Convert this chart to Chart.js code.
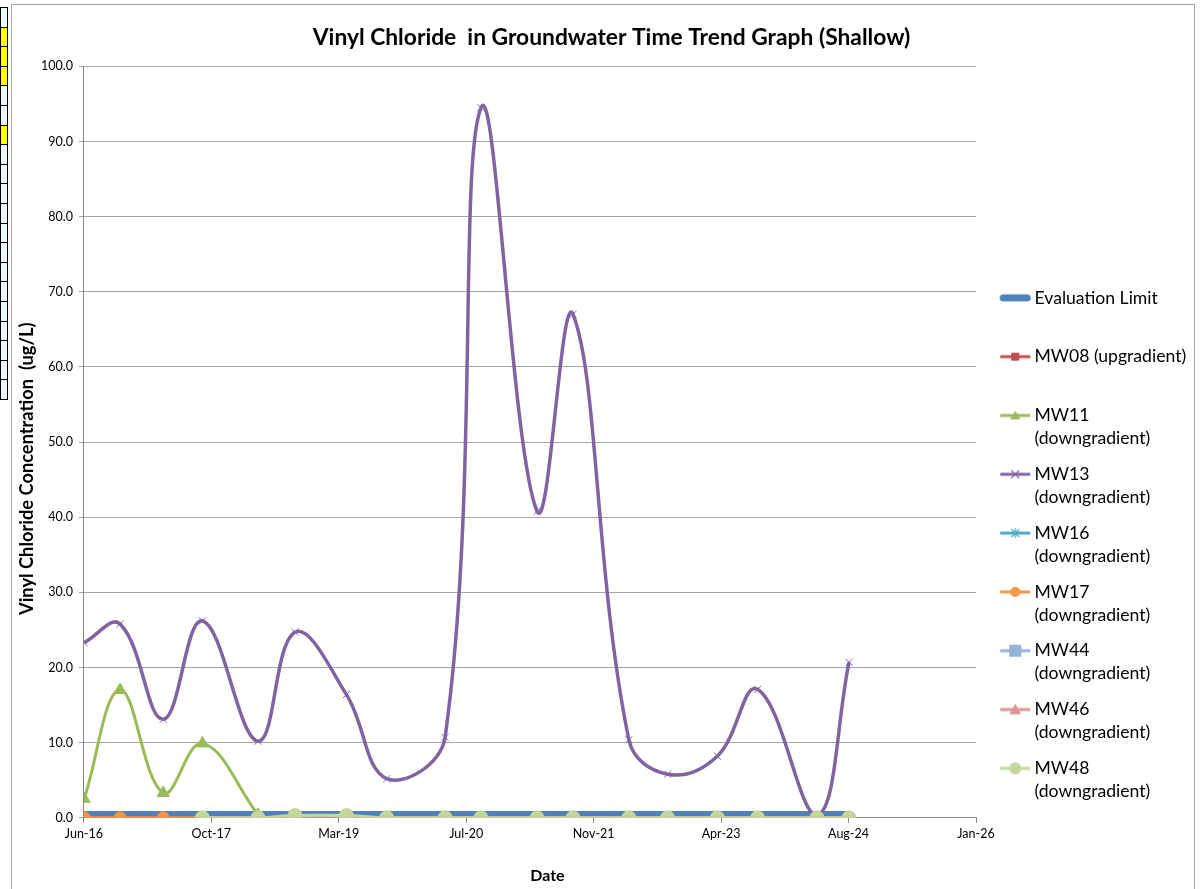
<!DOCTYPE html>
<html>
<head>
<meta charset="utf-8">
<script src="https://cdn.jsdelivr.net/npm/chart.js@4.4.0/dist/chart.umd.min.js"></script>
<style>
  body { margin: 0; background: #fff; }
  #wrap { position: relative; width: 1201px; height: 889px; overflow: hidden; }
  #frame { position: absolute; left: 11px; top: 4px; width: 1182px; height: 900px; border: 1px solid #a6a6a6; }
  .cell { position: absolute; left: 0; width: 6px; height: 19px; border: 1px solid #000; }
  canvas { position: absolute; left: 0; top: 0; }
</style>
</head>
<body>
<div id="wrap">
  <div id="cells"></div>
  <div id="frame"></div>
  <canvas id="myChart" width="1201" height="889"></canvas>
</div>
<script>
// sample dates
var sampleDates = ['2016-06-09', '2016-10-28', '2017-04-15', '2017-09-16', '2018-04-22', '2018-09-14',
  '2019-04-04', '2019-09-09', '2020-04-25', '2020-09-13', '2021-04-21', '2021-09-09',
  '2022-04-16', '2022-09-15', '2023-03-29', '2023-09-03', '2024-04-23', '2024-08-27'];

var evalLimit = [0.5, 0.5, 0.5, 0.5, 0.5, 0.5, 0.5, 0.5, 0.5, 0.5, 0.5, 0.5, 0.5, 0.5, 0.5, 0.5, 0.5, 0.5];
var mw08 = [0, 0, 0];                                  // first 3 dates
var mw11 = [2.5, 17.0, 3.3, 9.9, 0.4];                 // first 5 dates
var mw13 = [23.3, 25.8, 13.1, 26.2, 10.2, 24.7, 16.4, 5.2, 10.7, 94.5, 40.8, 67.0, 10.4, 5.8, 8.2, 17.1, 0.3, 20.7];
var mw16 = [0, 0, 0, 0, 0, 0, 0, 0, 0, 0, 0, 0, 0, 0]; // from 5th date
var mw17 = [0, 0, 0, 0];                               // first 4 dates
var mw44 = [0, 0, 0.3, 0.3, 0, 0, 0, 0, 0, 0, 0, 0, 0, 0, 0]; // from 4th date
var mw46 = [0, 0, 0, 0, 0, 0, 0, 0, 0, 0, 0, 0, 0, 0, 0];     // from 4th date
var mw48 = [0, 0, 0.3, 0.3, 0, 0, 0, 0, 0, 0, 0, 0, 0, 0, 0]; // from 4th date

var axisOrigin = '2016-06-08';   // "Jun-16" tick
var axisSpanDays = 3500;
var axisStepDays = 500;
var yTicks = [0, 10, 20, 30, 40, 50, 60, 70, 80, 90, 100];

var legendText = [
  ['Evaluation Limit', ''],
  ['MW08 (upgradient)', ''],
  ['MW11', '(downgradient)'],
  ['MW13', '(downgradient)'],
  ['MW16', '(downgradient)'],
  ['MW17', '(downgradient)'],
  ['MW44', '(downgradient)'],
  ['MW46', '(downgradient)'],
  ['MW48', '(downgradient)']
];

var months = ['Jan', 'Feb', 'Mar', 'Apr', 'May', 'Jun', 'Jul', 'Aug', 'Sep', 'Oct', 'Nov', 'Dec'];
var DAY = 86400000;
var t0 = Date.parse(axisOrigin);

function pts(values, firstIndex) {
  return values.map(function (v, i) {
    return { x: (Date.parse(sampleDates[firstIndex + i]) - t0) / DAY, y: v };
  });
}

// spreadsheet cells peeking out at the left edge
var cellFill = ['#eef8fa', '#ffff00', '#ffff00', '#ffff00', '#eef8fa', '#eef8fa', '#ffff00', '#eef8fa', '#eef8fa', '#eef8fa',
  '#eef8fa', '#eef8fa', '#eef8fa', '#eef8fa', '#eef8fa', '#eef8fa', '#eef8fa', '#eef8fa', '#eef8fa', '#eef8fa'];
var cells = document.getElementById('cells');
cellFill.forEach(function (c, i) {
  var d = document.createElement('div');
  d.className = 'cell';
  d.style.top = (7 + i * 19.6) + 'px';
  d.style.background = c;
  cells.appendChild(d);
});

// legend icons: short line with the marker in the middle, like Excel
// canvas is 60 wide, the visible part sits at 23..53 so it lines up with the text
function icon(color, style, lw, r) {
  var c = document.createElement('canvas');
  c.width = 60; c.height = 20;
  var g = c.getContext('2d');
  var cx = 38, cy = 10;
  g.strokeStyle = color;
  g.lineWidth = lw;
  g.lineCap = style ? 'butt' : 'round';
  g.beginPath(); g.moveTo(style ? 23 : 26, cy); g.lineTo(style ? 53 : 50, cy); g.stroke();
  g.fillStyle = color;
  g.lineWidth = 1.2;
  g.beginPath();
  if (style === 'rect') { g.fillRect(cx - r, cy - r, 2 * r, 2 * r); }
  else if (style === 'circle') { g.arc(cx, cy, r, 0, Math.PI * 2); g.fill(); }
  else if (style === 'triangle') { g.moveTo(cx, cy - r); g.lineTo(cx + r, cy + r * 0.8); g.lineTo(cx - r, cy + r * 0.8); g.closePath(); g.fill(); }
  else if (style === 'cross') { g.moveTo(cx - 4, cy - 4); g.lineTo(cx + 4, cy + 4); g.moveTo(cx + 4, cy - 4); g.lineTo(cx - 4, cy + 4); g.stroke(); }
  else if (style === 'star') { g.moveTo(cx - 4, cy - 4); g.lineTo(cx + 4, cy + 4); g.moveTo(cx + 4, cy - 4); g.lineTo(cx - 4, cy + 4); g.moveTo(cx, cy - 5); g.lineTo(cx, cy + 5); g.stroke(); }
  return c;
}

var icons = [
  icon('#4f81bd', null, 7, 0),
  icon('#c0504d', 'rect', 3, 4),
  icon('#9bbb59', 'triangle', 3, 5),
  icon('#8064a2', 'cross', 3, 4),
  icon('#4bacc6', 'star', 3, 4),
  icon('#f79646', 'circle', 3, 5),
  icon('#95b3d7', 'rect', 3, 6),
  icon('#d99694', 'triangle', 3, 6),
  icon('#c3d69b', 'circle', 3, 6)
];

function series(label, data, color, style, radius, width, order) {
  return {
    label: label,
    data: data,
    borderColor: color,
    backgroundColor: color,
    borderWidth: width,
    pointStyle: style,
    pointRadius: style ? radius : 0,
    pointBorderColor: color,
    pointBorderWidth: 1,
    pointBackgroundColor: color,
    tension: 0.4,
    fill: false,
    order: order
  };
}

var ctx = document.getElementById('myChart').getContext('2d');
var myChart = new Chart(ctx, {
  type: 'line',
  data: {
    datasets: [
      series('Evaluation Limit', pts(evalLimit, 0), '#4f81bd', false, 0, 6, 9),
      series('MW08 (upgradient)', pts(mw08, 0), '#c0504d', 'rect', 5, 3, 8),
      series('MW11 (downgradient)', pts(mw11, 0), '#9bbb59', 'triangle', 7, 3, 7),
      series('MW13 (downgradient)', pts(mw13, 0), '#8064a2', 'crossRot', 5, 3.5, 6),
      series('MW16 (downgradient)', pts(mw16, 4), '#4bacc6', 'star', 5, 3, 5),
      series('MW17 (downgradient)', pts(mw17, 0), '#f79646', 'circle', 6, 3, 4),
      series('MW44 (downgradient)', pts(mw44, 3), '#95b3d7', 'rect', 7, 3, 3),
      series('MW46 (downgradient)', pts(mw46, 3), '#d99694', 'triangle', 6, 3, 2),
      series('MW48 (downgradient)', pts(mw48, 3), '#c3d69b', 'circle', 7, 3, 1)
    ]
  },
  options: {
    responsive: false,
    animation: false,
    layout: { padding: { left: 16, right: 5, top: 0, bottom: 4 } },
    plugins: {
      tooltip: { enabled: false },
      title: {
        display: true,
        text: '  Vinyl Chloride  in Groundwater Time Trend Graph (Shallow)',
        color: '#000',
        font: { family: 'Lato', size: 22.8, weight: 'bold' },
        padding: { top: 24, bottom: 15 }
      },
      legend: {
        position: 'right',
        align: 'start',
        fullSize: false,
        maxWidth: 220,
        title: { display: true, text: ' ', font: { size: 10, lineHeight: 1 }, padding: { top: 200, bottom: 0 } },
        labels: {
          usePointStyle: true,
          pointStyleWidth: 37,
          padding: 12.7,
          color: '#000',
          font: { family: 'Lato', size: 17.6, lineHeight: 1.31 },
          sort: function (a, b) { return a.datasetIndex - b.datasetIndex; },
          generateLabels: function (chart) {
            return chart.data.datasets.map(function (ds, i) {
              return {
                text: legendText[i],
                pointStyle: icons[i],
                datasetIndex: i,
                hidden: false,
                lineWidth: 0,
                strokeStyle: 'rgba(0,0,0,0)',
                fillStyle: 'rgba(0,0,0,0)',
                fontColor: '#000'
              };
            });
          }
        }
      }
    },
    scales: {
      x: {
        type: 'linear',
        min: 0,
        max: axisSpanDays,
        border: { color: '#868686' },
        grid: { drawOnChartArea: false, drawTicks: true, tickLength: 5, color: '#868686' },
        ticks: {
          stepSize: axisStepDays,
          maxRotation: 0,
          autoSkip: false,
          color: '#000',
          padding: 4,
          font: { family: 'Lato', size: 12.5 },
          callback: function (v) {
            var d = new Date(t0 + v * DAY);
            return months[d.getUTCMonth()] + '-' + String(d.getUTCFullYear()).slice(2);
          }
        },
        title: {
          display: true,
          text: '         Date',
          color: '#000',
          font: { family: 'Lato', size: 16, weight: 'bold' },
          padding: { top: 20, bottom: 0 }
        }
      },
      y: {
        min: yTicks[0],
        max: yTicks[yTicks.length - 1],
        border: { color: '#868686' },
        grid: { color: '#a6a6a6', tickLength: 5 },
        afterBuildTicks: function (axis) { axis.ticks = yTicks.map(function (v) { return { value: v }; }); },
        ticks: {
          color: '#000',
          padding: 6,
          font: { family: 'Lato', size: 12.5 },
          callback: function (v) { return v.toFixed(1); }
        },
        title: {
          display: true,
          text: 'Vinyl Chloride Concentration  (ug/L)            ',
          color: '#000',
          font: { family: 'Lato', size: 18.3, weight: 'bold' },
          padding: { top: 0, bottom: -3 }
        }
      }
    }
  }
});
</script>
</body>
</html>
